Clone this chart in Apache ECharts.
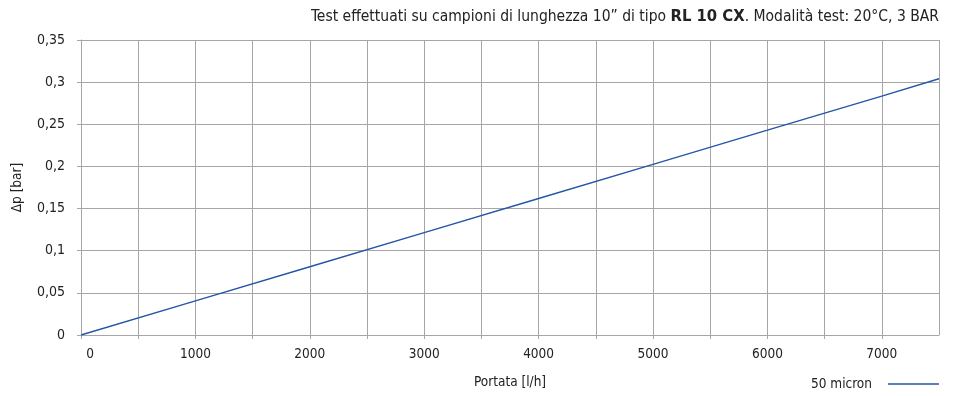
<!DOCTYPE html>
<html>
<head>
<meta charset="utf-8">
<script src="https://cdn.jsdelivr.net/npm/echarts@6/dist/echarts.min.js"></script>
<style>
  html, body { margin: 0; padding: 0; background: #fff; }
  #chart { width: 956px; height: 396px; }
</style>
</head>
<body>
<div id="chart"></div>
<script>
// Pressure drop vs. flow rate, RL 10 CX cartridge, 50 micron
const flowRates = [0, 1000, 2000, 3000, 4000, 5000, 6000, 7000, 7500];      // l/h
const pressureDrop = [0, 0.0405, 0.081, 0.1215, 0.162, 0.2025, 0.243, 0.2835, 0.304]; // bar
const seriesName = '50 micron';
const xAxisTitle = 'Portata [l/h]';
const yAxisTitle = 'Δp [bar]';

const FONT = '"Liberation Sans Narrow", "DejaVu Sans Condensed", "Roboto", sans-serif';
const GRID_COLOR = '#a6a6a6';

const chart = echarts.init(document.getElementById('chart'));
chart.setOption({
  animation: false,
  textStyle: { fontFamily: FONT },
  title: {
    text: 'Test effettuati su campioni di lunghezza 10” di tipo {b|RL 10 CX}. Modalità test: 20°C, 3 BAR',
    right: 12,
    top: 3,
    textStyle: {
      fontFamily: FONT,
      fontSize: 15.5,
      fontWeight: 'normal',
      color: '#222',
      rich: {
        b: { fontFamily: FONT, fontSize: 16.5, fontWeight: 'bold', color: '#222' }
      }
    }
  },
  grid: { left: 81, right: 17, top: 40, bottom: 61 },
  legend: {
    data: [seriesName],
    right: 12,
    bottom: 0,
    align: 'right',
    icon: 'rect',
    itemWidth: 51,
    itemHeight: 1.4,
    itemGap: 10,
    textStyle: { fontFamily: FONT, fontSize: 13.5, color: '#222', padding: [0, 11, 0, 0] }
  },
  xAxis: {
    type: 'value',
    min: 0,
    max: 7500,
    interval: 500,
    name: xAxisTitle,
    nameLocation: 'middle',
    nameGap: 40,
    nameTextStyle: { fontFamily: FONT, fontSize: 13.5, color: '#222' },
    axisLine: { show: true, lineStyle: { color: GRID_COLOR, width: 1 } },
    axisTick: { show: true, length: 4, lineStyle: { color: GRID_COLOR } },
    splitLine: { show: true, lineStyle: { color: GRID_COLOR, width: 1 } },
    axisLabel: {
      margin: 12,
      fontFamily: FONT,
      fontSize: 13.5,
      color: '#222',
      showMaxLabel: false,
      formatter: v => (v % 1000 === 0 ? (v === 0 ? '{z|0}' : String(v)) : ''),
      rich: { z: { fontFamily: FONT, fontSize: 13.5, color: '#222', padding: [0, 0, 0, 18] } }
    }
  },
  yAxis: {
    type: 'value',
    min: 0,
    max: 0.35,
    interval: 0.05,
    name: yAxisTitle,
    nameLocation: 'middle',
    nameGap: 57,
    nameRotate: 90,
    nameTextStyle: { fontFamily: FONT, fontSize: 13.5, color: '#222' },
    axisLine: { show: true, lineStyle: { color: GRID_COLOR, width: 1 } },
    axisTick: { show: true, length: 4, lineStyle: { color: GRID_COLOR } },
    splitLine: { show: true, lineStyle: { color: GRID_COLOR, width: 1 } },
    axisLabel: {
      margin: 16,
      fontFamily: FONT,
      fontSize: 14,
      color: '#222',
      formatter: v => String(Math.round(v * 100) / 100).replace('.', ',')
    }
  },
  series: [{
    name: seriesName,
    type: 'line',
    data: flowRates.map((x, i) => [x, pressureDrop[i]]),
    showSymbol: false,
    symbol: 'none',
    lineStyle: { color: '#2456a8', width: 1.4 },
    itemStyle: { color: '#2456a8' }
  }]
});
</script>
</body>
</html>
